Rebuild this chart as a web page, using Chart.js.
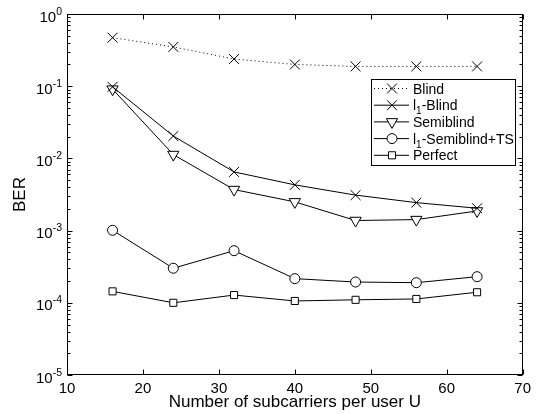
<!DOCTYPE html>
<html lang="en">
<head>
<meta charset="UTF-8">
<title>BER x subportadoras</title>
<script src="https://cdn.jsdelivr.net/npm/chart.js"></script>
<style>
  html, body { margin: 0; padding: 0; background: #fff; }
  #janela { width: 536px; height: 414px; }
</style>
</head>
<body>
<div id="janela"><canvas id="graficoBer" width="536" height="414"></canvas></div>
<script>
// numero de subportadoras por usuario (eixo x)
const subportadoras = [16, 24, 32, 40, 48, 56, 64];

// BER de cada receptor
const berBlind      = [0.47, 0.35, 0.238, 0.20, 0.188, 0.188, 0.188];
const berL1Blind    = [0.098, 0.0204, 0.0065, 0.0043, 0.0031, 0.00244, 0.00204];
const berSemiblind  = [0.091, 0.0113, 0.0037, 0.0025, 0.00138, 0.00142, 0.00187];
const berL1SemiTS   = [0.00101, 0.000301, 0.000527, 0.000216, 0.000194, 0.00019, 0.00023];
const berPerfect    = [0.000144, 0.0001, 0.000128, 0.000106, 0.00011, 0.000113, 0.00014];

// marcas dos eixos
const ticksX = [10, 20, 30, 40, 50, 60, 70];
const expoentesY = [0, -1, -2, -3, -4, -5];

const FONTE = '"Liberation Sans", Arial, Helvetica, sans-serif';

function pontos(valores) {
    return subportadoras.map((x, i) => ({ x: x, y: valores[i] }));
}

function serie(label, valores, estilo, raio, extra) {
    return Object.assign({
        label: label,
        data: pontos(valores),
        borderColor: '#000',
        borderWidth: 1,
        pointStyle: estilo,
        pointRadius: raio,
        pointHoverRadius: raio,
        pointBorderColor: '#000',
        pointBorderWidth: 1,
        pointBackgroundColor: '#fff',
        fill: false,
        tension: 0
    }, extra || {});
}

const dados = {
    datasets: [
        serie('Blind', berBlind, 'crossRot', 7, { borderDash: [1, 3] }),
        serie('l1-Blind', berL1Blind, 'crossRot', 7),
        serie('Semiblind', berSemiblind, 'triangle', 6.5, { pointRotation: 180 }),
        serie('l1-Semiblind+TS', berL1SemiTS, 'circle', 5),
        serie('Perfect', berPerfect, 'rect', 5)
    ]
};

// legenda: texto base, subscrito, resto
const legendaTextos = [
    ['Blind', '', ''],
    ['l', '1', '-Blind'],
    ['Semiblind', '', ''],
    ['l', '1', '-Semiblind+TS'],
    ['Perfect', '', '']
];

// desenha moldura, marcas, rotulos do eixo y e a legenda
const estiloMatlab = {
    id: 'estiloMatlab',
    afterDraw(chart) {
        const ctx = chart.ctx;
        const a = chart.chartArea;
        const sx = chart.scales.x;
        const sy = chart.scales.y;

        ctx.save();
        ctx.strokeStyle = '#000';
        ctx.lineWidth = 1;

        const L = Math.round(a.left) + 0.5;
        const R = Math.round(a.right) - 0.5;
        const T = Math.round(a.top) + 0.5;
        const B = Math.round(a.bottom) - 0.5;
        ctx.strokeRect(L, T, R - L, B - T);

        ctx.beginPath();
        ticksX.forEach(v => {
            const px = Math.round(sx.getPixelForValue(v)) + 0.5;
            ctx.moveTo(px, B); ctx.lineTo(px, B - 5);
            ctx.moveTo(px, T); ctx.lineTo(px, T + 5);
        });
        expoentesY.forEach(e => {
            const py = Math.round(sy.getPixelForValue(Math.pow(10, e))) + 0.5;
            ctx.moveTo(L, py); ctx.lineTo(L + 5, py);
            ctx.moveTo(R, py); ctx.lineTo(R - 5, py);
            if (e < 0) {
                for (let k = 2; k <= 9; k++) {
                    const pm = Math.round(sy.getPixelForValue(k * Math.pow(10, e))) + 0.5;
                    ctx.moveTo(L, pm); ctx.lineTo(L + 3, pm);
                    ctx.moveTo(R, pm); ctx.lineTo(R - 3, pm);
                }
            }
        });
        ctx.stroke();

        // rotulos 10^n do eixo y
        ctx.fillStyle = '#000';
        ctx.textBaseline = 'alphabetic';
        ctx.textAlign = 'left';
        expoentesY.forEach(e => {
            const py = sy.getPixelForValue(Math.pow(10, e));
            ctx.font = '15px ' + FONTE;
            const wBase = ctx.measureText('10').width;
            ctx.font = '10.5px ' + FONTE;
            const sup = e === 0 ? '0' : String(e);
            const wSup = ctx.measureText(sup).width;
            const x0 = a.left - 5 - wBase - wSup;
            ctx.font = '15px ' + FONTE;
            ctx.fillText('10', x0, py + 7.5);
            ctx.font = '10.5px ' + FONTE;
            ctx.fillText(sup, x0 + wBase, py + 0.5);
        });

        // legenda
        const caixa = { x: 371, y: 79, w: 144, h: 86 };
        ctx.fillStyle = '#fff';
        ctx.fillRect(caixa.x, caixa.y, caixa.w, caixa.h);
        ctx.strokeRect(caixa.x + 0.5, caixa.y + 0.5, caixa.w, caixa.h);

        chart.data.datasets.forEach((ds, i) => {
            const cy = caixa.y + 9.5 + i * 16.7;
            ctx.save();
            ctx.strokeStyle = '#000';
            ctx.lineWidth = 1;
            ctx.setLineDash(ds.borderDash || []);
            ctx.beginPath();
            ctx.moveTo(caixa.x + 3, cy);
            ctx.lineTo(caixa.x + 38, cy);
            ctx.stroke();
            ctx.setLineDash([]);
            ctx.fillStyle = '#fff';
            Chart.helpers.drawPoint(ctx, {
                pointStyle: ds.pointStyle,
                rotation: ds.pointRotation || 0,
                radius: ds.pointRadius,
                borderWidth: 1
            }, caixa.x + 21, cy);
            ctx.restore();

            const [base, sub, resto] = legendaTextos[i];
            let tx = caixa.x + 42;
            ctx.fillStyle = '#000';
            ctx.font = '14px ' + FONTE;
            ctx.fillText(base, tx, cy + 5);
            tx += ctx.measureText(base).width;
            if (sub) {
                ctx.font = '10px ' + FONTE;
                ctx.fillText(sub, tx, cy + 9);
                tx += ctx.measureText(sub).width;
                ctx.font = '14px ' + FONTE;
                ctx.fillText(resto, tx, cy + 5);
            }
        });
        ctx.restore();
    }
};

const config = {
    type: 'line',
    data: dados,
    options: {
        responsive: false,
        animation: false,
        devicePixelRatio: 1,
        events: [],
        layout: { padding: { top: 14, right: 13, left: 0, bottom: 0 } },
        plugins: {
            legend: { display: false },
            tooltip: { enabled: false },
            title: { display: false }
        },
        scales: {
            x: {
                type: 'linear',
                min: 10,
                max: 70,
                afterBuildTicks: (s) => { s.ticks = ticksX.map(v => ({ value: v })); },
                grid: { display: false, drawTicks: false },
                border: { display: false },
                ticks: {
                    color: '#000',
                    padding: 5,
                    maxRotation: 0,
                    autoSkip: false,
                    font: { family: FONTE, size: 15 }
                },
                title: {
                    display: true,
                    text: 'Number of subcarriers per user U',
                    color: '#000',
                    font: { family: FONTE, size: 17 },
                    padding: { top: 0, bottom: 1 }
                },
                afterFit: (s) => { s.height = 39; }
            },
            y: {
                type: 'logarithmic',
                min: 1e-5,
                max: 1,
                grid: { display: false, drawTicks: false },
                border: { display: false },
                ticks: { display: false },
                title: {
                    display: true,
                    text: 'BER',
                    color: '#000',
                    font: { family: FONTE, size: 17 },
                    padding: { top: 10, bottom: 0 }
                },
                afterFit: (s) => { s.width = 67; }
            }
        }
    },
    plugins: [estiloMatlab]
};

let grafico = new Chart(document.getElementById('graficoBer'), config);
</script>
</body>
</html>
